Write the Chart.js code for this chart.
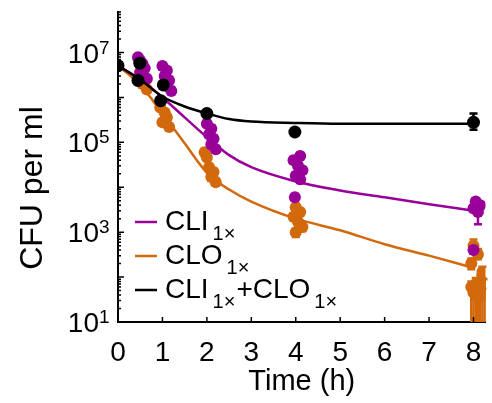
<!DOCTYPE html>
<html>
<head>
<meta charset="utf-8">
<script src="https://cdn.jsdelivr.net/npm/chart.js@4.4.1/dist/chart.umd.min.js"></script>
<style>
  html, body { margin: 0; padding: 0; background: #fff; }
</style>
</head>
<body>
<canvas id="chart" width="492" height="403"></canvas>
<script>
const FONT = '"Liberation Sans", Arial, Helvetica, sans-serif';
const PURPLE = '#990099';
const ORANGE = '#D2690C';
const BLACK = '#000000';

// fitted curves (CFU per ml)
const fitTime = [0, 0.5, 1, 1.5, 2, 2.5, 3, 4, 5, 6, 7, 8];
const cliFit   = [5.1e6, 2.5e6, 1.0e6, 3.6e5, 1.3e5, 5.2e4, 2.8e4, 1.35e4, 8.5e3, 6.0e3, 4.2e3, 3.0e3];
const cloFit   = [5.1e6, 1.9e6, 4.4e5, 9.5e4, 2.1e4, 8.9e3, 4.8e3, 2.0e3, 1.1e3, 540, 300, 160];
const comboFit = [5.1e6, 2.5e6, 1.05e6, 6.3e5, 4.4e5, 3.3e5, 2.9e5, 2.7e5, 2.6e5, 2.6e5, 2.6e5, 2.6e5];

// replicate measurements: time (h), CFU per ml, error bar low / high
const cliTime = [0,
  0.45, 0.5, 0.55, 0.6, 0.5, 0.65,
  1.0, 1.1, 1.05, 1.15, 1.1, 1.2,
  2.0, 2.1, 2.05, 2.15, 2.1, 2.2,
  4.1, 3.95, 4.05, 4.15, 4.0, 4.1, 3.98,
  8.05, 8.15, 8.0, 8.1, 8.0];
const cliCfu = [5.1e6,
  7.9e6, 6.6e6, 5.6e6, 4.5e6, 3.5e6, 2.6e6,
  5.0e6, 4.0e6, 3.0e6, 2.4e6, 1.8e6, 1.4e6,
  2.6e5, 2.0e5, 1.5e5, 1.2e5, 9.0e4, 7.0e4,
  5.0e4, 4.0e4, 3.0e4, 2.4e4, 1.8e4, 1.5e4, 6.0e3,
  4.8e3, 4.0e3, 3.4e3, 2.8e3, 400];
const cliLow = [4.4e6,
  6.8e6, 5.6e6, 4.7e6, 3.8e6, 3.0e6, 2.2e6,
  4.2e6, 3.4e6, 2.5e6, 2.0e6, 1.5e6, 1.2e6,
  2.2e5, 1.7e5, 1.3e5, 1.0e5, 7.6e4, 5.9e4,
  4.2e4, 3.4e4, 2.5e4, 2.0e4, 1.5e4, 1.25e4, 5.0e3,
  4.0e3, 3.3e3, 2.8e3, 1.5e3, 330];
const cliHigh = [5.9e6,
  9.2e6, 7.8e6, 6.6e6, 5.3e6, 4.1e6, 3.1e6,
  5.9e6, 4.7e6, 3.5e6, 2.9e6, 2.1e6, 1.7e6,
  3.1e5, 2.4e5, 1.8e5, 1.4e5, 1.07e5, 8.3e4,
  5.9e4, 4.7e4, 3.6e4, 2.8e4, 2.1e4, 1.8e4, 7.1e3,
  5.7e3, 4.7e3, 4.0e3, 3.3e3, 480];

const cloTime = [0,
  0.5, 0.6, 0.55, 0.65,
  0.95, 1.05, 1.1, 1.0, 1.15,
  1.95, 2.0, 2.05, 2.15, 2.1, 2.2,
  4.0, 4.1, 3.95, 4.05, 4.15, 4.0,
  8.0, 8.1, 7.95, 8.2, 8.15, 8.05,
  7.95, 8.0, 8.05, 8.1, 8.15, 8.2, 8.25];
const cloCfu = [5.1e6,
  3.8e6, 2.8e6, 2.0e6, 1.5e6,
  6.0e5, 4.6e5, 3.6e5, 2.8e5, 2.2e5,
  6.0e4, 4.6e4, 2.8e4, 2.2e4, 1.7e4, 1.3e4,
  3.6e3, 2.8e3, 2.2e3, 1.7e3, 1.3e3, 1.0e3,
  500, 320, 200, 130, 80, 50,
  60, 45, 70, 35, 55, 40, 65];
const cloLow = [4.4e6,
  3.2e6, 2.4e6, 1.7e6, 1.3e6,
  5.1e5, 3.9e5, 3.0e5, 2.4e5, 1.9e5,
  5.0e4, 3.9e4, 2.4e4, 1.8e4, 1.4e4, 1.1e4,
  3.0e3, 2.3e3, 1.8e3, 1.4e3, 1.05e3, 780,
  380, 250, 150, 95, 55, 35,
  1, 1, 1, 1, 1, 1, 1];
const cloHigh = [5.9e6,
  4.5e6, 3.3e6, 2.4e6, 1.8e6,
  7.1e5, 5.5e5, 4.3e5, 3.3e5, 2.6e5,
  7.2e4, 5.5e4, 3.3e4, 2.6e4, 2.0e4, 1.6e4,
  4.3e3, 3.3e3, 2.6e3, 2.0e3, 1.6e3, 1.2e3,
  690, 420, 260, 170, 110, 70,
  80, 60, 95, 50, 75, 55, 90];

const comboTime = [0, 0.49, 0.45, 1.02, 0.96, 2.0, 3.98, 8.0];
const comboCfu  = [5.1e6, 5.8e6, 2.4e6, 1.9e6, 8.5e5, 4.4e5, 1.7e5, 2.8e5];
const comboLow  = [4.5e6, 5.0e6, 2.1e6, 1.6e6, 7.3e5, 3.9e5, 1.5e5, 1.9e5];
const comboHigh = [5.8e6, 6.6e6, 2.8e6, 2.2e6, 9.9e5, 5.0e5, 2.0e5, 4.4e5];

// axis settings
const xMin = 0, xMax = 8.27;
const yMin = 10, yMax = 8e7;
const xTicks = [0, 1, 2, 3, 4, 5, 6, 7, 8];
const yLabelExps = [1, 3, 5, 7];
const yTickExps = [1, 2, 3, 4, 5, 6, 7];

const legendItems = [
  { color: PURPLE, parts: [['CLI', 0], ['1\u00d7', 1]] },
  { color: ORANGE, parts: [['CLO', 0], ['1\u00d7', 1]] },
  { color: BLACK,  parts: [['CLI', 0], ['1\u00d7', 1], ['+CLO', 0], ['1\u00d7', 1]] },
];

const pts = (t, v) => t.map((x, i) => ({ x, y: v[i] }));

function curve(label, values, color, order) {
  return {
    type: 'line', label, data: pts(fitTime, values),
    borderColor: color, borderWidth: 2.5, pointRadius: 0,
    cubicInterpolationMode: 'monotone', fill: false, order
  };
}
function points(label, t, v, lo, hi, color, order, r) {
  return {
    type: 'scatter', label, data: pts(t, v), errLow: lo, errHigh: hi,
    backgroundColor: color, borderColor: color, pointRadius: r, pointBorderWidth: 0,
    showLine: false, order
  };
}

// error bars drawn right before each scatter dataset
const errorBars = {
  id: 'errorBars',
  beforeDatasetDraw(chart, args) {
    const ds = chart.data.datasets[args.index];
    if (!ds.errLow) return;
    const { ctx, chartArea: a, scales: { x, y } } = chart;
    ctx.save();
    ctx.beginPath();
    ctx.rect(a.left, a.top, a.right - a.left + 2, a.bottom - a.top);
    ctx.clip();
    ctx.strokeStyle = ds.borderColor;
    ctx.lineWidth = 2.5;
    ds.data.forEach((p, i) => {
      const px = x.getPixelForValue(p.x);
      const y1 = y.getPixelForValue(ds.errLow[i]);
      const y2 = y.getPixelForValue(ds.errHigh[i]);
      ctx.beginPath();
      ctx.moveTo(px, y1); ctx.lineTo(px, y2);
      ctx.moveTo(px - 4, y1); ctx.lineTo(px + 4, y1);
      ctx.moveTo(px - 4, y2); ctx.lineTo(px + 4, y2);
      ctx.stroke();
    });
    ctx.restore();
  }
};

// inward ticks, superscript labels, rotated y title and the legend
const decorations = {
  id: 'decorations',
  afterDraw(chart) {
    const { ctx, chartArea: a, scales: { x, y } } = chart;
    ctx.save();
    ctx.strokeStyle = '#000';
    ctx.lineWidth = 1.5;
    ctx.beginPath();
    xTicks.forEach(t => {
      const px = x.getPixelForValue(t);
      ctx.moveTo(px, a.bottom); ctx.lineTo(px, a.bottom - 5);
    });
    yTickExps.forEach(e => {
      const base = Math.pow(10, e);
      const py = y.getPixelForValue(base);
      ctx.moveTo(a.left, py); ctx.lineTo(a.left + 6, py);
      for (let m = 2; m <= 9; m++) {
        if (base * m > yMax) break;
        const pm = y.getPixelForValue(base * m);
        ctx.moveTo(a.left, pm); ctx.lineTo(a.left + 3, pm);
      }
    });
    ctx.stroke();

    // y tick labels 10^n
    ctx.fillStyle = '#000';
    ctx.textBaseline = 'alphabetic';
    yLabelExps.forEach(e => {
      const py = y.getPixelForValue(Math.pow(10, e));
      ctx.font = '28px ' + FONT;
      ctx.textAlign = 'right';
      ctx.fillText('10', a.left - 19, py + 10);
      ctx.font = '19px ' + FONT;
      ctx.textAlign = 'left';
      ctx.fillText(String(e), a.left - 19, py + 1);
    });

    // y title
    ctx.save();
    ctx.translate(33, 188);
    ctx.rotate(-Math.PI / 2);
    ctx.font = '32px ' + FONT;
    ctx.textAlign = 'center';
    ctx.textBaseline = 'middle';
    ctx.fillText('CFU per ml', 0, 0);
    ctx.restore();

    // legend
    const rows = [230, 264, 298];
    legendItems.forEach((item, k) => {
      const by = rows[k];
      ctx.strokeStyle = item.color;
      ctx.lineWidth = 2.5;
      ctx.beginPath();
      ctx.moveTo(135, by - 8); ctx.lineTo(157, by - 8);
      ctx.stroke();
      let tx = 165;
      ctx.fillStyle = '#000';
      ctx.textAlign = 'left';
      item.parts.forEach(([txt, sub]) => {
        ctx.font = (sub ? '20px ' : '28px ') + FONT;
        if (sub) tx += 3;
        ctx.fillText(txt, tx, sub ? by + 10 : by);
        tx += ctx.measureText(txt).width + 1;
      });
    });
    ctx.restore();
  }
};

new Chart(document.getElementById('chart'), {
  data: {
    datasets: [
      points('CLO', cloTime, cloCfu, cloLow, cloHigh, ORANGE, 6, 6),
      curve('CLO fit', cloFit, ORANGE, 5),
      points('CLI', cliTime, cliCfu, cliLow, cliHigh, PURPLE, 4, 6),
      curve('CLI fit', cliFit, PURPLE, 3),
      points('CLI+CLO', comboTime, comboCfu, comboLow, comboHigh, BLACK, 2, 6.5),
      curve('CLI+CLO fit', comboFit, BLACK, 1),
    ]
  },
  options: {
    responsive: false,
    animation: false,
    devicePixelRatio: 1,
    events: [],
    layout: { padding: { top: 12, right: 2, left: 0, bottom: 0 } },
    plugins: { legend: { display: false }, tooltip: { enabled: false } },
    scales: {
      x: {
        type: 'linear', min: xMin, max: xMax,
        afterFit(s) { s.height = 81; },
        afterBuildTicks(s) { s.ticks = xTicks.map(v => ({ value: v })); },
        border: { color: '#000', width: 2 },
        grid: { display: false },
        ticks: {
          autoSkip: false, maxRotation: 0, padding: 6, color: '#000',
          font: { family: FONT, size: 28 }
        },
        title: { display: true, text: 'Time (h)', color: '#000', font: { family: FONT, size: 29 }, padding: { top: 0, bottom: 4 } }
      },
      y: {
        type: 'logarithmic', min: yMin, max: yMax,
        afterFit(s) { s.width = 118; },
        border: { color: '#000', width: 2 },
        grid: { display: false },
        ticks: { display: false }
      }
    }
  },
  plugins: [errorBars, decorations]
});
</script>
</body>
</html>
